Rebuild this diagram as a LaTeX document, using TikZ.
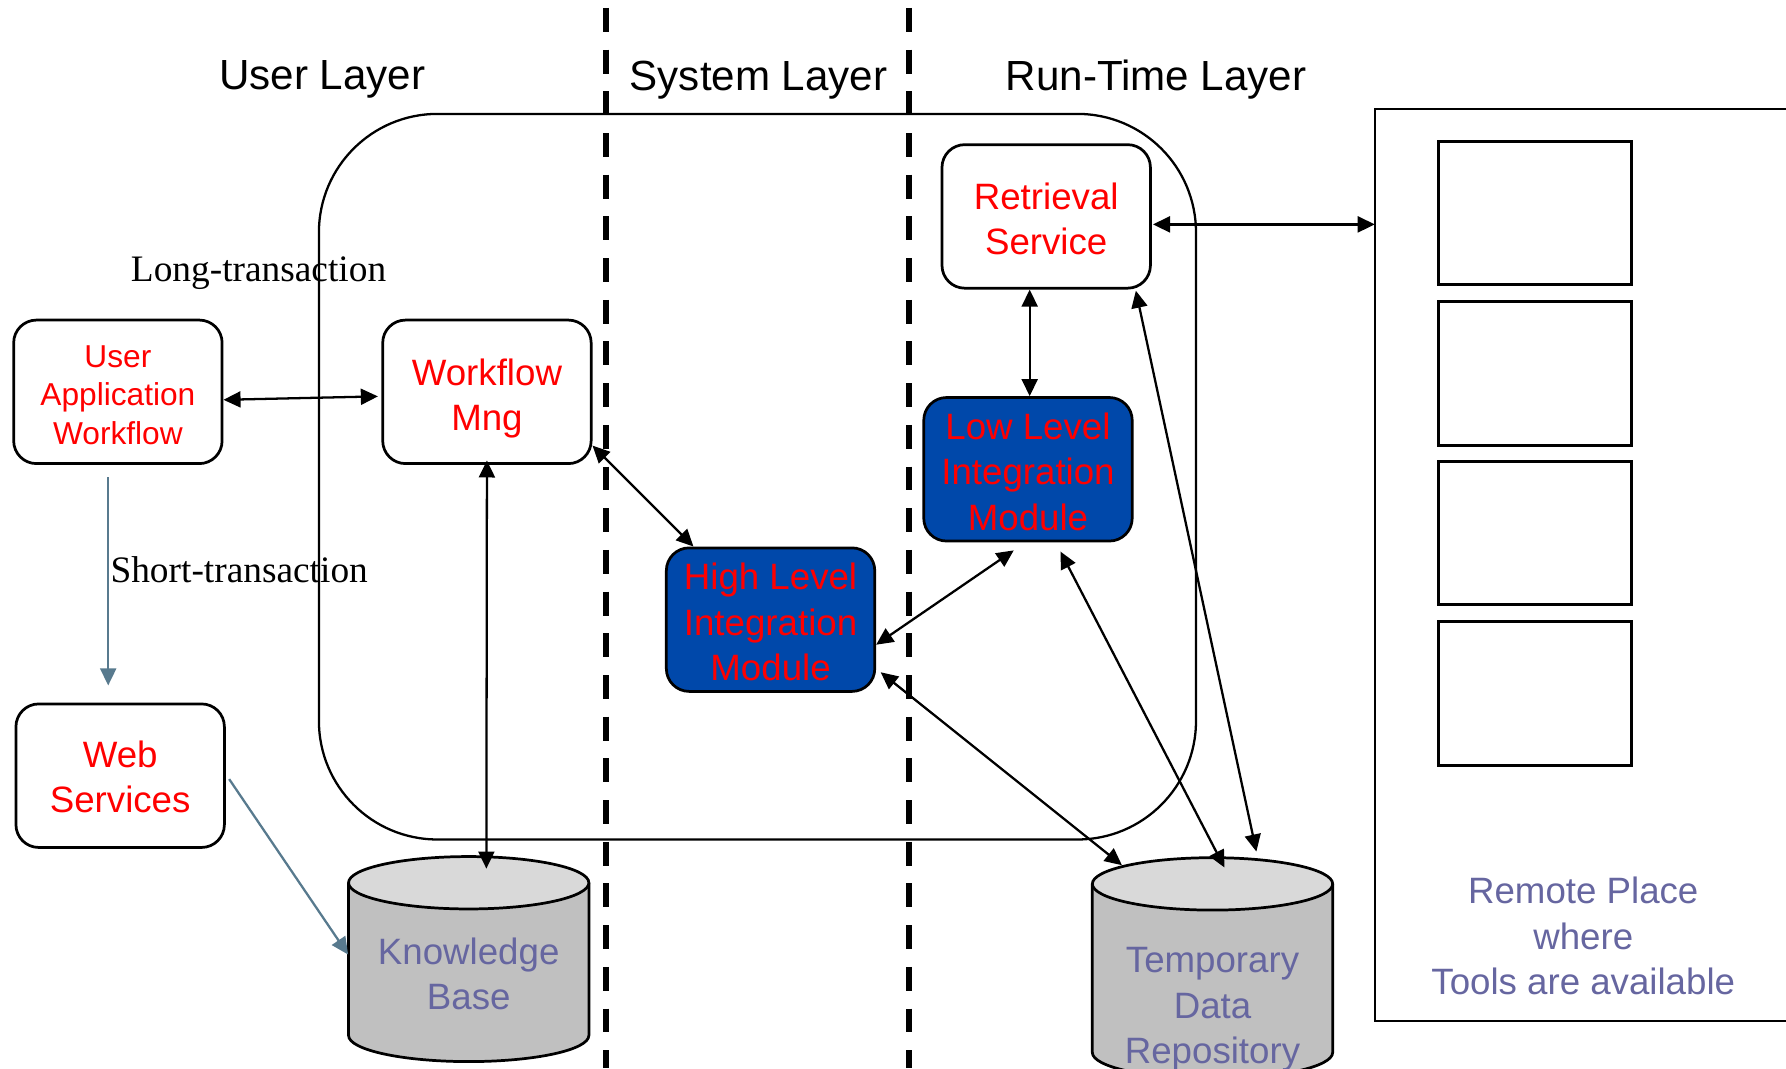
\documentclass[tikz,border=0pt]{standalone}
\usepackage{fontspec}
\setmainfont{Liberation Sans}
\newfontfamily\seriffont{Liberation Serif}
\usetikzlibrary{arrows.meta,calc}

\definecolor{boxred}{RGB}{255,0,0}
\definecolor{modblue}{RGB}{0,72,170}
\definecolor{slatetxt}{RGB}{102,102,160}
\definecolor{slateline}{RGB}{88,122,142}
\definecolor{cylbody}{RGB}{192,192,192}
\definecolor{cyltop}{RGB}{217,217,217}

\begin{document}
\begin{tikzpicture}[x=0.5pt,y=-0.5pt,
  rbox/.style={draw=black, line width=1.2pt, rounded corners=10pt, fill=white,
    minimum width=91.5pt, minimum height=63pt, inner sep=0pt},
  modbox/.style={rbox, fill=modblue},
  boxtext/.style={align=center, inner sep=0pt, text=boxred,
    font=\fontsize{16.1}{20}\selectfont},
  toolbox/.style={draw=black, line width=1.3pt, minimum width=84.5pt,
    minimum height=63pt, inner sep=0pt},
  link/.style={line width=1pt, {Triangle[length=7.5pt,width=7pt]}-{Triangle[length=7.5pt,width=7pt]}},
  slatelink/.style={draw=slateline, line width=1pt, -{Triangle[length=7.5pt,width=7pt]}},
  layerline/.style={line width=2.6pt, dash pattern=on 10.5pt off 7.8pt, dash phase=14.8pt},
  title/.style={font=\fontsize{18.5}{22}\selectfont, inner sep=0pt},
  dbtext/.style={text=slatetxt, align=center, inner sep=0pt, font=\fontsize{16.1}{20}\selectfont},
  translabel/.style={font=\seriffont\fontsize{16.4}{19}\selectfont, inner sep=0pt},
  hull/.style={minimum width=105.5pt, inner sep=0pt}
]
\useasboundingbox (0,0) rectangle (1568,938);

% system boundary
\draw[line width=1pt, rounded corners=52pt] (280,100) rectangle (1050,737);

% layer separators
\draw[layerline] (532,0) -- (532,938);
\draw[layerline] (798,0) -- (798,938);

% layer titles
\node[title] (userlayer) at (283,70) {User Layer};
\node[title] (systemlayer) at (666,70) {System Layer};
\node[title] (runtimelayer) at (1015,70) {Run-Time Layer};

% remote place with its tools
\draw[line width=0.9pt] (1600,96) -- (1207,96) -- (1207,896) -- (1600,896);
\coordinate (rp) at (1207,197);
\node[toolbox] (tool1) at (1347.5,187) {};
\node[toolbox] (tool2) at (1347.5,328) {};
\node[toolbox] (tool3) at (1347.5,468) {};
\node[toolbox] (tool4) at (1347.5,609) {};
\node[dbtext] (remotetext) at (1390,822) {Remote Place\\where\\Tools are available};

% knowledge base cylinder
\fill[cylbody] (306,775) -- (306,909) arc[start angle=180,end angle=360,x radius=52.75pt,y radius=11.5pt] -- (517,775) -- cycle;
\draw[line width=1.2pt] (306,775) -- (306,909) arc[start angle=180,end angle=360,x radius=52.75pt,y radius=11.5pt] -- (517,775);
\draw[line width=1.2pt, fill=cyltop] (411.5,775) ellipse[x radius=52.75pt, y radius=11.5pt];
\node[hull, minimum height=90pt] (kb) at (411.5,842) {};
\node[dbtext] (kbtext) at (411.5,855) {Knowledge\\Base};

% temporary data repository cylinder
\fill[cylbody] (959,776) -- (959,924) arc[start angle=180,end angle=360,x radius=52.75pt,y radius=11.5pt] -- (1170,776) -- cycle;
\draw[line width=1.2pt] (959,776) -- (959,924) arc[start angle=180,end angle=360,x radius=52.75pt,y radius=11.5pt] -- (1170,776);
\draw[line width=1.2pt, fill=cyltop] (1064.5,776) ellipse[x radius=52.75pt, y radius=11.5pt];
\node[hull, minimum height=98pt] (tdr) at (1064.5,850) {};
\node[dbtext] (tdrtext) at (1064.5,886) {Temporary\\Data\\Repository};

% components
\node[rbox] (ua) at (103.5,344) {};
\node[boxtext, font=\fontsize{13.9}{16.8}\selectfont] (uatext) at ([yshift=-1.5pt]ua.center) {User\\Application\\Workflow};
\node[rbox] (wf) at (427.5,344) {};
\node[boxtext] (wftext) at ([yshift=-3pt]wf.center) {Workflow\\Mng};
\node[rbox] (ws) at (105.5,681) {};
\node[boxtext] (wstext) at ([yshift=-0.5pt]ws.center) {Web\\Services};
\node[rbox] (rs) at (918.5,190) {};
\node[boxtext] (rstext) at ([yshift=-1pt]rs.center) {Retrieval\\Service};
\node[modbox] (ll) at (902.5,412) {};
\node[boxtext] (lltext) at ([yshift=-1pt]ll.center) {Low Level\\Integration\\Module};
\node[modbox] (hl) at (676.5,544) {};
\node[boxtext] (hltext) at ([yshift=-1pt]hl.center) {High Level\\Integration\\Module};

% transaction labels
\node[translabel] (longlbl) at (227,240) {Long-transaction};
\node[translabel] (shortlbl) at (210,500) {Short-transaction};

% connectors
\draw[link] ([yshift=-3.5pt]ua.east) -- ([xshift=-1.5pt,yshift=-2pt]wf.west);
\draw[slatelink] ([xshift=-4.25pt,yshift=-5.5pt]ua.south) -- ([xshift=-5.25pt,yshift=7.5pt]ws.north);
\draw[slatelink] ([xshift=1.5pt,yshift=-1.5pt]ws.east) -- ([yshift=2pt]kb.west);
\draw[link] ([yshift=2pt]wf.south) -- ([xshift=7.75pt,yshift=-5.5pt]kb.north);
\draw[link] ([yshift=8.5pt]wf.south east) -- ([xshift=12.5pt]hl.north west);
\draw[link] ([yshift=-11pt]hl.east) -- ([xshift=-6.25pt,yshift=-3.5pt]ll.south);
\draw[link] ([xshift=2pt,yshift=9pt]hl.south east) -- ([xshift=-39.75pt,yshift=-4pt]tdr.north);
\draw[link] ([xshift=-7.25pt]rs.south) -- ([xshift=0.75pt]ll.north);
\draw[link] ([xshift=14.25pt,yshift=-4pt]ll.south) -- ([xshift=5.25pt,yshift=-5pt]tdr.north);
\draw[link] ([xshift=-7pt,yshift=-0.5pt]rs.south east) -- ([xshift=19.25pt,yshift=2pt]tdr.north);
\draw[link] ([xshift=0.5pt,yshift=-3.5pt]rs.east) -- (rp);
\end{tikzpicture}
\end{document}
